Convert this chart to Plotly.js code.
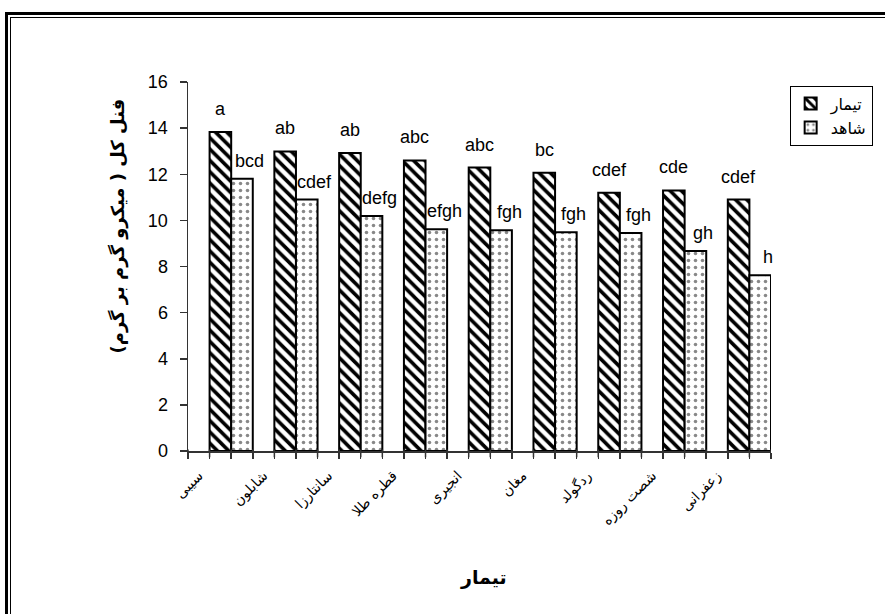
<!DOCTYPE html>
<html>
<head>
<meta charset="utf-8">
<script src="https://cdn.plot.ly/plotly-3.0.1.min.js"></script>
<style>
  html, body { margin: 0; padding: 0; background: #fff; overflow: hidden; }
  #chart { width: 885px; height: 614px; }
  .frame1 { position: absolute; left: 5px; top: 12px; width: 1000px; height: 1000px;
            border-left: 3px solid #000; border-top: 3px solid #000; pointer-events: none; }
  .frame2 { position: absolute; left: 10px; top: 17px; width: 1000px; height: 1000px;
            border-left: 1px solid #000; border-top: 1px solid #000; pointer-events: none; }
</style>
</head>
<body>
<div id="chart"></div>
<div class="frame1"></div>
<div class="frame2"></div>
<script>
// ---- data ----
const categories = ['سیبی', 'شابلون', 'سانتارزا', 'قطره طلا', 'انجیری', 'مغان', 'ردگولد', 'شصت روزه', 'زعفرانی'];
const treatmentValues = [13.83, 12.99, 12.92, 12.60, 12.29, 12.07, 11.20, 11.30, 10.90];
const controlValues   = [11.81, 10.90, 10.19, 9.61, 9.57, 9.49, 9.45, 8.67, 7.62];
const treatmentLetters = ['a', 'ab', 'ab', 'abc', 'abc', 'bc', 'cdef', 'cde', 'cdef'];
const controlLetters   = ['bcd', 'cdef', 'defg', 'efgh', 'fgh', 'fgh', 'fgh', 'gh', 'h'];
const seriesNames = ['تیمار', 'شاهد'];
const yTickValues = [0, 2, 4, 6, 8, 10, 12, 14, 16];
const yTitle = 'فنل کل ( میکرو گرم بر گرم)';
const xTitle = 'تیمار';

const idx = categories.map((c, i) => i);
// bar-edge tick positions (gap start, bar boundaries) derived from the category indices
const edgeTicks = [];
idx.forEach(i => { edgeTicks.push(i - 2/3, i - 1/3, i); });
edgeTicks.push(idx.length - 2/3);

const latin = 'Liberation Sans, Arial, sans-serif';
const persian = 'DejaVu Sans, sans-serif';

const traces = [
  {
    type: 'bar', name: seriesNames[0], x: idx, y: treatmentValues, legendgroup: 'g1',
    marker: { color: 'white', line: { color: '#000', width: 2 },
              pattern: { shape: '\\', fgcolor: '#000', bgcolor: '#fff', size: 8, solidity: 0.45 } },
    hoverinfo: 'y'
  },
  {
    type: 'bar', name: seriesNames[1], x: idx, y: controlValues, legendgroup: 'g2',
    marker: { color: 'white', line: { color: '#000', width: 2 },
              pattern: { shape: '.', fgcolor: '#888', bgcolor: '#fff', size: 7, solidity: 0.2 } },
    hoverinfo: 'y'
  },
  // transparent helper trace so the overlay axis (category labels) is drawn
  {
    type: 'scatter', x: [idx[0]], y: [0], xaxis: 'x2', mode: 'markers',
    marker: { opacity: 0, size: 1 }, showlegend: false, hoverinfo: 'skip'
  }
];

const annotations = [];
idx.forEach(i => {
  annotations.push({ x: i - 1/6, y: treatmentValues[i], xref: 'x', yref: 'y', text: treatmentLetters[i],
    showarrow: false, yanchor: 'bottom', yshift: 11, font: { family: latin, size: 18, color: '#000' } });
  annotations.push({ x: i + 1/6, y: controlValues[i], xref: 'x', yref: 'y', text: controlLetters[i],
    showarrow: false, yanchor: 'bottom', xshift: 8, yshift: 6, font: { family: latin, size: 18, color: '#000' } });
});
annotations.push({ x: -0.143, y: 0.61, xref: 'paper', yref: 'paper', text: '<b>' + yTitle + '</b>',
  textangle: -90, showarrow: false, font: { family: persian, size: 18, color: '#000' } });
annotations.push({ x: 0.507, y: -0.38, xref: 'paper', yref: 'paper', text: '<b>' + xTitle + '</b>',
  showarrow: false, font: { family: persian, size: 19, color: '#000' } });

// Excel-style small tick marks at every bar edge, below the category axis
const tickShapes = edgeTicks.map(v => ({
  type: 'line', xref: 'x', yref: 'paper', x0: v, x1: v, y0: 0.004, y1: -0.017,
  line: { color: '#333', width: 1.5 }, layer: 'above'
}));

const xRange = [-2/3, categories.length - 2/3];

const layout = {
  width: 885, height: 614,
  margin: { l: 188, r: 95, t: 82, b: 163, pad: 0 },
  paper_bgcolor: '#fff', plot_bgcolor: '#fff',
  barmode: 'group', bargap: 1/3, bargroupgap: 0,
  showlegend: true,
  legend: { x: 1.032, y: 0.99, xanchor: 'left', yanchor: 'top', bgcolor: '#fff',
            bordercolor: '#000', borderwidth: 1, font: { family: persian, size: 16, color: '#000' },
            tracegroupgap: 22, traceorder: 'normal' },
  xaxis: {
    type: 'linear', range: xRange,
    tickvals: edgeTicks, ticktext: edgeTicks.map(() => ''),
    ticks: 'outside', ticklen: 6, tickcolor: '#333', tickwidth: 1.5,
    showgrid: false, zeroline: false, showline: true, linecolor: '#333', linewidth: 1.5
  },
  xaxis2: {
    type: 'linear', overlaying: 'x', side: 'bottom', range: xRange, anchor: 'y',
    tickvals: idx.map(i => i - 0.5), ticktext: categories, tickangle: -45,
    ticks: 'outside', ticklen: 10, tickcolor: 'rgba(0,0,0,0)',
    tickfont: { family: persian, size: 14, color: '#000' },
    showgrid: false, zeroline: false, showline: false
  },
  yaxis: {
    range: [0, 16], tickvals: yTickValues, ticks: 'outside', ticklen: 7, tickcolor: '#333', tickwidth: 1.5,
    showgrid: false, zeroline: false, showline: true, linecolor: '#333', linewidth: 1.5,
    tickfont: { family: latin, size: 18, color: '#000' }, ticklabelstandoff: 8
  },
  shapes: tickShapes,
  annotations: annotations
};

Plotly.newPlot('chart', traces, layout, { displayModeBar: false, staticPlot: true });
</script>
</body>
</html>
